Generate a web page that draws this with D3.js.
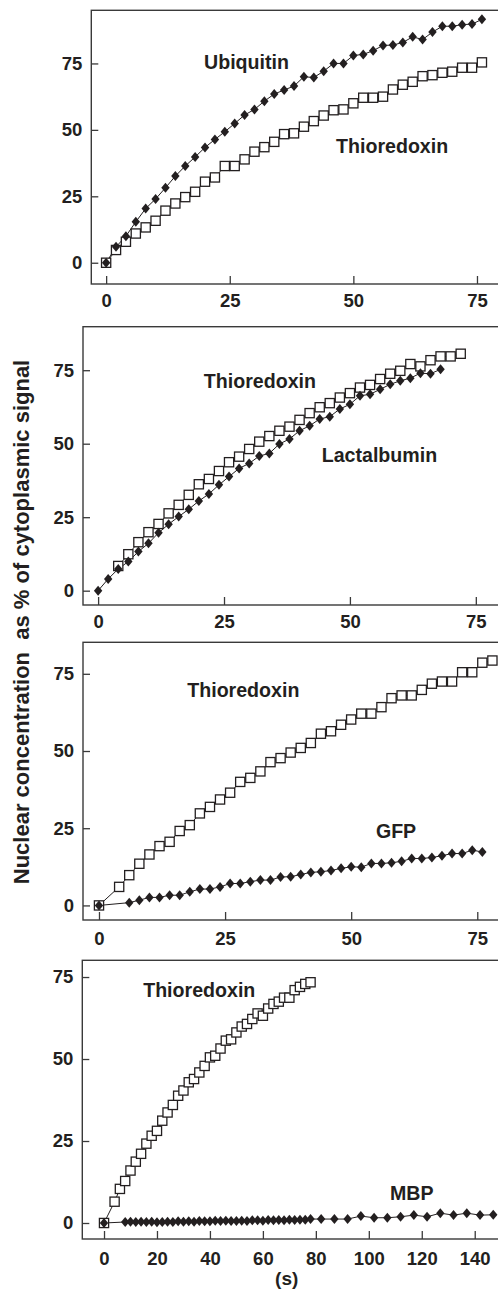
<!DOCTYPE html>
<html>
<head>
<meta charset="utf-8">
<script src="https://cdn.jsdelivr.net/npm/d3@7"></script>
<style>
  html, body { margin: 0; padding: 0; background: #fff; }
  svg { display: block; }
  text { font-family: "Liberation Sans", Arial, Helvetica, sans-serif; font-weight: bold; fill: #231f20; }
</style>
</head>
<body>
<svg id="chart" width="498" height="1290"></svg>
<script>
// panel 1: ubiquitin vs thioredoxin
const ubiTime = [0,2,4,6,8,10,12,14,16,18,20,22,24,26,28,30,32,34,36,38,40,42,44,46,48,50,52,54,56,58,60,62,64,66,68,70,72,74,76];
const ubiValues = [0,6,10,15.4,20.4,24,28.2,32.6,36.4,39.8,43.4,46.4,49.3,52.4,55.6,57.7,60.8,63.5,65,66.5,70,69.7,72.1,75,75,78,78.4,79.8,81.8,81.9,82.9,85,84,86.8,89,89,89.6,89.8,91.6];
const trx1Time = [0,2,4,6,8,10,12,14,16,18,20,22,24,26,28,30,32,34,36,38,40,42,44,46,48,50,52,54,56,58,60,62,64,66,68,70,72,74,76];
const trx1Values = [0,4.8,7.9,11,13.3,15.8,19.6,22.3,24.7,26.7,30.5,32.1,36.4,36.4,38.9,41.8,43.5,45.5,48.4,48.7,51.2,53.3,55.4,57.4,57.7,60,62.1,62.1,62.5,65.2,67,68.1,70.2,70.6,71.5,71.9,73.4,73.4,75.4];

// panel 2: lactalbumin vs thioredoxin
const lacTime = [0,2,4,6,8,10,12,14,16,18,20,22,24,26,28,30,32,34,36,38,40,42,44,46,48,50,52,54,56,58,60,62,64,66,68];
const lacValues = [0,4,7.4,9.9,13.3,16.1,19.7,22.6,25.2,27.7,30.5,32.9,36,38.8,41.6,43.3,45.8,46.7,49.9,51.6,54.4,56.1,58.4,59.2,61.8,63.4,66.3,66.8,68.5,70.2,71.4,72.3,74,73.8,75.3];
const trx2Time = [4,6,8,10,12,14,16,18,20,22,24,26,28,30,32,34,36,38,40,42,44,46,48,50,52,54,56,58,60,62,64,66,68,70,72];
const trx2Values = [8.4,12.4,16.5,19.9,22.7,26.3,29.2,32.6,36.2,38,40.7,43.7,45.6,48.2,50.7,52.6,54.4,55.8,58.1,60.4,62.4,63.8,65.7,67.2,69.1,70,72,73.8,74.8,77.1,76.3,78.4,79.7,79.7,80.6];

// panel 3: GFP vs thioredoxin
const gfpTime = [0,6,8,10,12,14,16,18,20,22,24,26,28,30,32,34,36,38,40,42,44,46,48,50,52,54,56,58,60,62,64,66,68,70,72,74,76];
const gfpValues = [0,0.9,1.7,2.6,2.6,3.3,3.3,4.4,5.3,5.3,6,7.1,7.1,7.7,8.2,8.2,9.2,9.3,10,10.7,10.9,11.3,12,12.5,12.4,13.6,13.6,13.8,14.3,15.2,15.2,15.5,16.1,16.8,16.8,17.9,17.3];
const trx3Time = [0,4,6,8,10,12,14,16,18,20,22,24,26,28,30,32,34,36,38,40,42,44,46,48,50,52,54,56,58,60,62,64,66,68,70,72,74,76,78];
const trx3Values = [0,6,9.8,13.5,16.5,19.2,20.6,24.1,26,29.8,31.9,34.3,36.5,40,41.3,43.4,46.4,47.7,49.5,51,52.6,55.6,56.4,58.5,60.2,62.1,62.1,64.2,67.1,68,68,69.8,71.8,72.5,72.5,75.5,75.5,78.6,79.3];

// panel 4: MBP vs thioredoxin
const mbpTime = [0,8,10,12,14,16,18,20,22,24,26,28,30,32,34,36,38,40,42,44,46,48,50,52,54,56,58,60,62,64,66,68,70,72,74,76,78,82,87,92,97,102,107,112,117,122,127,132,137,142,147];
const mbpValues = [0,0.3,0.4,0.3,0.4,0.3,0.4,0.2,0.3,0.4,0.3,0.5,0.4,0.5,0.4,0.6,0.5,0.5,0.7,0.6,0.7,0.6,0.6,0.7,0.6,0.8,0.8,0.7,0.9,0.8,0.9,0.8,1,0.9,1,1,1.2,1.2,1.2,1.2,2.1,1.6,1.6,1.9,2.4,1.9,3,2.4,3,2.4,2.5];
const trx4Time = [0,4,6,8,10,12,14,16,18,20,22,24,26,28,30,32,34,36,38,40,42,44,46,48,50,52,54,56,58,60,62,64,66,68,70,72,74,76,78];
const trx4Values = [0,6.5,10.4,12.8,16,18.7,21.1,24.2,26.6,28.1,31.2,33.7,36,38.8,40.4,42.9,43.9,45.9,47.9,50.5,51,53.2,55.6,56,58.1,59.9,60.7,62.2,63.9,63.2,65.4,66.8,67.5,68.7,68.7,71,72,72.9,73.4];

const yTicks = [0, 25, 50, 75];
const xTicksShort = [0, 25, 50, 75];
const xTicksLong = [0, 20, 40, 60, 80, 100, 120, 140];

const yTitle = 'Nuclear concentration  as % of cytoplasmic signal';
const xTitle = '(s)';

const panels = [
  {
    x: { domain: [-3, 80], range: [91.3, 501.7] },
    y: { domain: [-8, 95], range: [284, 10.3] },
    xTicks: xTicksShort, pad: 10,
    series: [
      { t: trx1Time, v: trx1Values, shape: 'square' },
      { t: ubiTime, v: ubiValues, shape: 'diamond' },
    ],
    labels: [
      { text: 'Ubiquitin', x: 19.8, y: 72.8 },
      { text: 'Thioredoxin', x: 46.5, y: 41.4 },
    ],
  },
  {
    x: { domain: [-3, 80], range: [83, 501] },
    y: { domain: [-4.87, 89.8], range: [605, 326.7] },
    xTicks: xTicksShort, pad: 10,
    series: [
      { t: trx2Time, v: trx2Values, shape: 'square' },
      { t: lacTime, v: lacValues, shape: 'diamond' },
    ],
    labels: [
      { text: 'Thioredoxin', x: 21, y: 69.1 },
      { text: 'Lactalbumin', x: 44.4, y: 43.9 },
    ],
  },
  {
    x: { domain: [-3.17, 80], range: [83, 502.5] },
    y: { domain: [-4.72, 85.2], range: [920, 642.3] },
    xTicks: xTicksShort, pad: 11.5,
    series: [
      { t: trx3Time, v: trx3Values, shape: 'square' },
      { t: gfpTime, v: gfpValues, shape: 'diamond' },
    ],
    labels: [
      { text: 'Thioredoxin', x: 17.5, y: 67.4 },
      { text: 'GFP', x: 54.9, y: 21.7 },
    ],
  },
  {
    x: { domain: [-8.2, 152], range: [82.3, 506.5] },
    y: { domain: [-4.88, 80.1], range: [1239, 960.3] },
    xTicks: xTicksLong, pad: 12.5,
    series: [
      { t: trx4Time, v: trx4Values, shape: 'square' },
      { t: mbpTime, v: mbpValues, shape: 'diamond' },
    ],
    labels: [
      { text: 'Thioredoxin', x: 14.8, y: 69 },
      { text: 'MBP', x: 108, y: 7 },
    ],
  },
];

const svg = d3.select('#chart');
const INK = '#231f20';
const AXIS = '#3a3a3a';

const SQ = 9.2;
const diamondPath = 'M0,-5 L4.2,0 L0,5 L-4.2,0 Z';

for (const p of panels) {
  const x = d3.scaleLinear().domain(p.x.domain).range(p.x.range);
  const y = d3.scaleLinear().domain(p.y.domain).range(p.y.range);
  const g = svg.append('g');

  const [x0, x1] = p.x.range;
  const [yb, yt] = p.y.range;

  // frame (right side runs off the page)
  g.append('rect')
    .attr('x', x0).attr('y', yt)
    .attr('width', x1 - x0 + 10).attr('height', yb - yt)
    .attr('fill', 'none').attr('stroke', AXIS).attr('stroke-width', 1.4);

  const yAxis = g.append('g')
    .attr('transform', `translate(${x0},0)`)
    .call(d3.axisLeft(y).tickValues(yTicks).tickSizeInner(-7).tickSizeOuter(0).tickPadding(9));
  yAxis.select('.domain').remove();
  yAxis.selectAll('line').attr('stroke', AXIS).attr('stroke-width', 1.3);
  yAxis.selectAll('text').attr('font-size', 18.5).attr('fill', INK)
    .attr('font-family', '"Liberation Sans", Arial, sans-serif').attr('font-weight', 'bold');

  const xAxis = g.append('g')
    .attr('transform', `translate(0,${yb})`)
    .call(d3.axisBottom(x).tickValues(p.xTicks).tickSizeInner(-8).tickSizeOuter(0).tickPadding(p.pad));
  xAxis.select('.domain').remove();
  xAxis.selectAll('line').attr('stroke', AXIS).attr('stroke-width', 1.3);
  xAxis.selectAll('text').attr('font-size', 18.5).attr('fill', INK)
    .attr('font-family', '"Liberation Sans", Arial, sans-serif').attr('font-weight', 'bold');

  const line = d3.line().x(d => x(d[0])).y(d => y(d[1]));

  for (const s of p.series) {
    const pts = s.t.map((t, i) => [t, s.v[i]]);
    g.append('path').datum(pts)
      .attr('d', line).attr('fill', 'none')
      .attr('stroke', INK).attr('stroke-width', 1);
  }

  for (const s of p.series) {
    const pts = s.t.map((t, i) => [t, s.v[i]]);
    if (s.shape === 'square') {
      g.append('g').selectAll('rect').data(pts).join('rect')
        .attr('x', d => x(d[0]) - SQ / 2).attr('y', d => y(d[1]) - SQ / 2)
        .attr('width', SQ).attr('height', SQ)
        .attr('fill', '#fff').attr('stroke', INK).attr('stroke-width', 1.3);
    } else {
      g.append('g').selectAll('path').data(pts).join('path')
        .attr('d', diamondPath)
        .attr('transform', d => `translate(${x(d[0])},${y(d[1])})`)
        .attr('fill', INK);
    }
  }

  g.selectAll('text.lbl').data(p.labels).join('text')
    .attr('class', 'lbl')
    .attr('x', d => x(d.x)).attr('y', d => y(d.y))
    .attr('font-size', 19.6)
    .text(d => d.text);
}

svg.append('text')
  .attr('transform', 'translate(29,622) rotate(-90)')
  .attr('text-anchor', 'middle')
  .attr('font-size', 22)
  .style('white-space', 'pre')
  .text(yTitle);

svg.append('text')
  .attr('x', 286.7).attr('y', 1285)
  .attr('text-anchor', 'middle')
  .attr('font-size', 19)
  .text(xTitle);
</script>
</body>
</html>
